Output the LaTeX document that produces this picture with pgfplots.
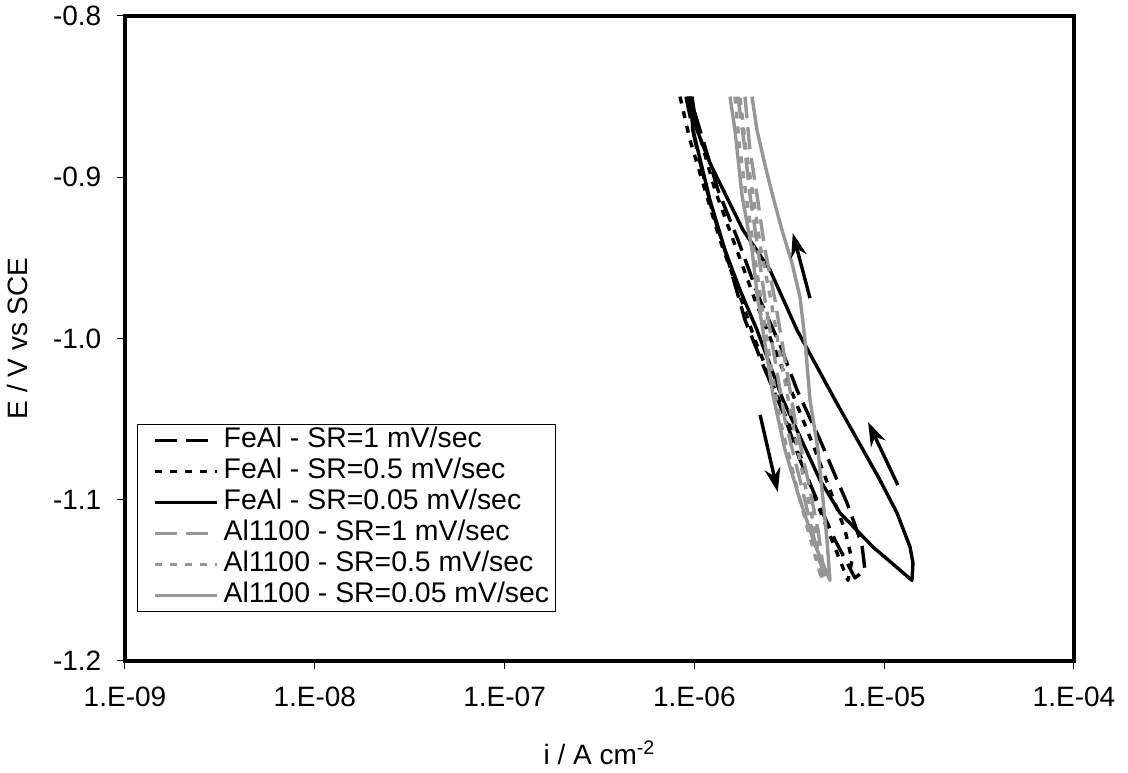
\documentclass[border=0pt]{standalone}
\usepackage{pgfplots}
\pgfplotsset{compat=1.18}
\usepackage{fontspec}
\setmainfont{Liberation Sans}
\usetikzlibrary{arrows.meta}
\definecolor{lgray}{RGB}{150,150,150}
\begin{document}
\fontsize{14pt}{17pt}\selectfont
\begin{tikzpicture}
\begin{axis}[
  scale only axis, width=474.5pt, height=322.5pt,
  xmode=log, xmin=1e-9, xmax=1e-4, ymin=-1.2, ymax=-0.8,
  xtick={1e-9,1e-8,1e-7,1e-6,1e-5,1e-4},
  xticklabels={1.E-09,1.E-08,1.E-07,1.E-06,1.E-05,1.E-04},
  ytick={-1.2,-1.1,-1.0,-0.9,-0.8},
  yticklabels={-1.2,-1.1,-1.0,-0.9,-0.8},
  xminorticks=false, yminorticks=false,
  tick align=outside, tick pos=left, major tick length=4pt,
  every tick/.style={black, line width=0.5pt},
  axis line style={line width=1.6pt},
  tick label style={font=\fontsize{14pt}{17pt}\selectfont},
  yticklabel style={xshift=-3pt},
  xticklabel style={yshift=-4pt},
  label style={font=\fontsize{14pt}{17pt}\selectfont},
  xlabel={i / A cm\textsuperscript{-2}},
  ylabel={E / V vs SCE},
  xlabel style={at={(axis description cs:0.5,-0.1426)}, anchor=center},
  ylabel style={at={(axis description cs:-0.1128,0.5)}, anchor=center},
  legend style={at={(axis description cs:0.0126,0.076)}, anchor=south west,
    draw=black, font=\fontsize{14.2pt}{17pt}\selectfont,
    row sep=0.5pt, column sep=1.5pt, inner xsep=2pt, inner ysep=0.5pt,
    nodes={inner sep=1pt, text height=10pt, text depth=3pt}},
  legend cell align=left,
  legend image code/.code={\path (-6pt,0pt); \draw[#1, line width=1.7pt] plot coordinates {(0pt,0pt) (15.5pt,0pt) (31pt,0pt)};},
  every axis plot/.append style={line width=1.7pt, line join=round},
]
% FeAl SR=1
\addplot[black, dash pattern=on 11pt off 4.5pt] coordinates {
(9.03e-7,-0.850) (1.032e-6,-0.8831) (1.238e-6,-0.9203) (1.503e-6,-0.9513)
(1.848e-6,-0.9885) (2.355e-6,-1.0195) (2.894e-6,-1.0443) (3.601e-6,-1.0753)
(4.426e-6,-1.1002) (5.506e-6,-1.1250) (7.018e-6,-1.1485) (7.923e-6,-1.1436)
(7.640e-6,-1.1281) (7.018e-6,-1.1157) (6.368e-6,-1.1020) (5.506e-6,-1.0847)
(4.590e-6,-1.0629) (3.472e-6,-1.0319) (2.825e-6,-1.0040) (2.216e-6,-0.9761)
(1.697e-6,-0.9389) (1.331e-6,-0.9079) (1.070e-6,-0.8707) (9.48e-7,-0.850)
};
\addlegendentry{FeAl - SR=1 mV/sec}
% FeAl SR=0.5
\addplot[black, dash pattern=on 3.5pt off 4pt] coordinates {
(8.40e-7,-0.850) (9.48e-7,-0.8769) (1.137e-6,-0.9079) (1.364e-6,-0.9389)
(1.697e-6,-0.9699) (2.086e-6,-1.0009) (2.659e-6,-1.0319) (3.389e-6,-1.0629)
(4.216e-6,-1.0958) (5.374e-6,-1.1268) (6.446e-6,-1.150) (6.768e-6,-1.1374)
(6.216e-6,-1.1188) (5.309e-6,-1.0971) (4.320e-6,-1.0691) (3.389e-6,-1.0381)
(2.659e-6,-1.0071) (2.086e-6,-0.9761) (1.636e-6,-0.9420) (1.284e-6,-0.9079)
(1.0447e-6,-0.8707) (9.25e-7,-0.850)
};
\addlegendentry{FeAl - SR=0.5 mV/sec}
% FeAl SR=0.05
\addplot[black] coordinates {
(9.48e-7,-0.850) (9.83e-7,-0.8707) (1.208e-6,-0.9141) (1.449e-6,-0.9451)
(1.739e-6,-0.9699) (2.137e-6,-0.9947) (2.930e-6,-1.0381) (4.590e-6,-1.0878)
(5.851e-6,-1.1082) (8.730e-6,-1.1293) (1.401e-5,-1.150) (1.418e-5,-1.1392)
(1.368e-5,-1.1293) (1.168e-5,-1.1082) (9.504e-6,-1.0878) (5.506e-6,-1.0381)
(3.472e-6,-0.9947) (2.502e-6,-0.9575) (1.803e-6,-0.9327) (1.208e-6,-0.8912)
(1.032e-6,-0.8707) (9.71e-7,-0.850)
};
\addlegendentry{FeAl - SR=0.05 mV/sec}
% Al1100 SR=1
\addplot[lgray, dash pattern=on 11pt off 4.5pt] coordinates {
(1.697e-6,-0.850) (1.848e-6,-0.8831) (1.963e-6,-0.9110) (2.163e-6,-0.9451)
(2.355e-6,-0.9761) (2.659e-6,-1.0133) (3.001e-6,-1.0505) (3.601e-6,-1.0878)
(4.165e-6,-1.1188) (4.877e-6,-1.150) (4.480e-6,-1.1188) (3.968e-6,-1.0878)
(3.389e-6,-1.0505) (3.001e-6,-1.0133) (2.659e-6,-0.9761) (2.355e-6,-0.9451)
(2.137e-6,-0.9110) (1.963e-6,-0.8831) (1.848e-6,-0.850)
};
\addlegendentry{Al1100 - SR=1 mV/sec}
% Al1100 SR=0.5
\addplot[lgray, dash pattern=on 3.5pt off 4pt] coordinates {
(1.636e-6,-0.850) (1.739e-6,-0.8831) (1.870e-6,-0.9110) (2.061e-6,-0.9451)
(2.243e-6,-0.9761) (2.502e-6,-1.0133) (2.825e-6,-1.0505) (3.389e-6,-1.0878)
(3.968e-6,-1.1188) (4.703e-6,-1.150) (4.320e-6,-1.1188) (3.780e-6,-1.0878)
(3.268e-6,-1.0505) (2.859e-6,-1.0133) (2.532e-6,-0.9761) (2.243e-6,-0.9451)
(2.036e-6,-0.9110) (1.870e-6,-0.8831) (1.739e-6,-0.850)
};
\addlegendentry{Al1100 - SR=0.5 mV/sec}
% Al1100 SR=0.05
\addplot[lgray] coordinates {
(1.540e-6,-0.850) (1.636e-6,-0.8707) (1.781e-6,-0.9110) (2.011e-6,-0.9451)
(2.163e-6,-0.9761) (2.384e-6,-1.0071) (2.595e-6,-1.0350) (3.001e-6,-1.0691)
(3.601e-6,-1.1002) (4.320e-6,-1.1281) (5.182e-6,-1.150) (4.997e-6,-1.1250)
(4.760e-6,-1.1002) (4.480e-6,-1.0691) (4.066e-6,-1.0381) (3.826e-6,-1.0009)
(3.601e-6,-0.9743) (3.268e-6,-0.9532) (2.894e-6,-0.9327) (2.595e-6,-0.9122)
(2.355e-6,-0.8924) (2.137e-6,-0.8707) (2.011e-6,-0.850)
};
\addlegendentry{Al1100 - SR=0.05 mV/sec}
% arrows
\draw[line width=1.7pt, -{Stealth[length=12pt,width=8pt]}] (axis cs:4.066e-6,-0.975) -- (axis cs:3.30e-6,-0.9346);
\draw[line width=1.7pt, -{Stealth[length=12pt,width=8pt]}] (axis cs:2.22e-6,-1.0474) -- (axis cs:2.75e-6,-1.0952);
\draw[line width=1.7pt, -{Stealth[length=12pt,width=8pt]}] (axis cs:1.18e-5,-1.0909) -- (axis cs:8.22e-6,-1.0518);
\end{axis}
\pgfresetboundingbox
\useasboundingbox ([xshift=-62.5pt,yshift=-56pt]current axis.south west) rectangle ([xshift=27pt,yshift=8pt]current axis.north east);
\end{tikzpicture}
\end{document}
